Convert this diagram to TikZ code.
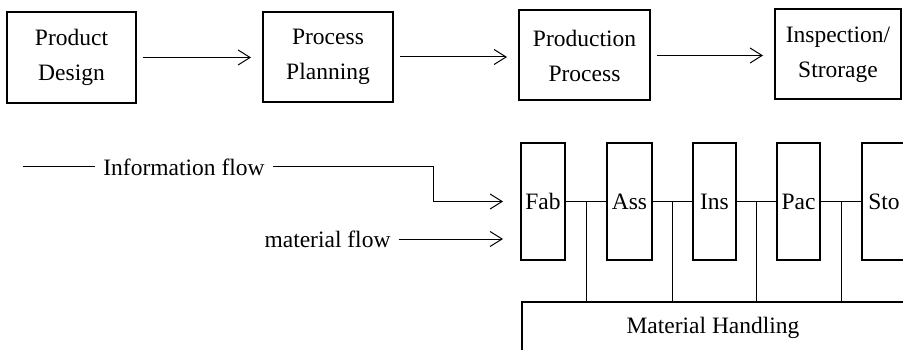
\documentclass[tikz,border=0pt]{standalone}
\usepackage{fontspec}
\setmainfont{Liberation Serif}
\usetikzlibrary{arrows.meta}
\begin{document}
\begin{tikzpicture}[x=1pt,y=-1pt,
    font=\fontsize{23.5}{35}\selectfont,
    box/.style={draw,line width=2pt,minimum width=130pt,minimum height=90pt,align=center},
    cell/.style={draw,line width=2pt,minimum width=44pt,minimum height=117pt},
    flow/.style={line width=1pt,-{Straight Barb[length=12pt,width=15pt,line width=1pt]}}]
      \useasboundingbox (0,0) rectangle (903,350);
      \clip (0,0) rectangle (903,350);
      \draw
        (71.5,57.5) node[box,minimum width=129pt,minimum height=91pt] (design){Product\\Design}
        (328,57) node[box] (planning){Process\\Planning}
        (584.5,55.5) node[box,minimum width=131pt] (production){Production\\Process}
        (838,54.5) node[box,minimum width=126pt] (inspection){Inspection/\\Strorage};
      \draw
        (543,201.5) node[cell] (fab){Fab}
        (629.5,201.5) node[cell,minimum width=45pt] (ass){Ass}
        (714.5,201.5) node[cell,minimum width=43pt] (ins){Ins}
        (798.5,201.5) node[cell,minimum width=43pt] (pac){Pac}
        (884,201.5) node[cell] (sto){Sto}
        (713,328) node[draw,line width=2pt,minimum width=382pt,minimum height=52pt] (handling){Material Handling};
      \draw
        (23,167) coordinate (infostart)
        (433,167) coordinate (bend)
        (184,167) node[inner sep=8pt] (info){Information flow}
        (327.5,239) node[inner sep=8pt] (mat){material flow};
      \begin{scope}[flow,shorten <=6pt,shorten >=11pt]
        \draw (design.east) to (design.east -| planning.west);
        \draw (planning.east) to (planning.east -| production.west);
        \draw (production.east) to (production.east -| inspection.west);
      \end{scope}
      \begin{scope}[flow,shorten >=17pt]
        \draw (info) -- (bend) |- (fab.west);
        \draw (mat) -- (mat -| fab.west);
      \end{scope}
      \draw[line width=1pt] (infostart) -- (info);
      \begin{scope}[line width=0.8pt]
        \draw (fab) -- coordinate (j1) (ass);
        \draw (ass) -- coordinate (j2) (ins);
        \draw (ins) -- coordinate (j3) (pac);
        \draw (pac) -- coordinate (j4) (sto);
        \draw (j1) -- (j1 |- handling.north);
        \draw (j2) -- (j2 |- handling.north);
        \draw (j3) -- (j3 |- handling.north);
        \draw (j4) -- (j4 |- handling.north);
      \end{scope}
    \end{tikzpicture}
\end{document}
